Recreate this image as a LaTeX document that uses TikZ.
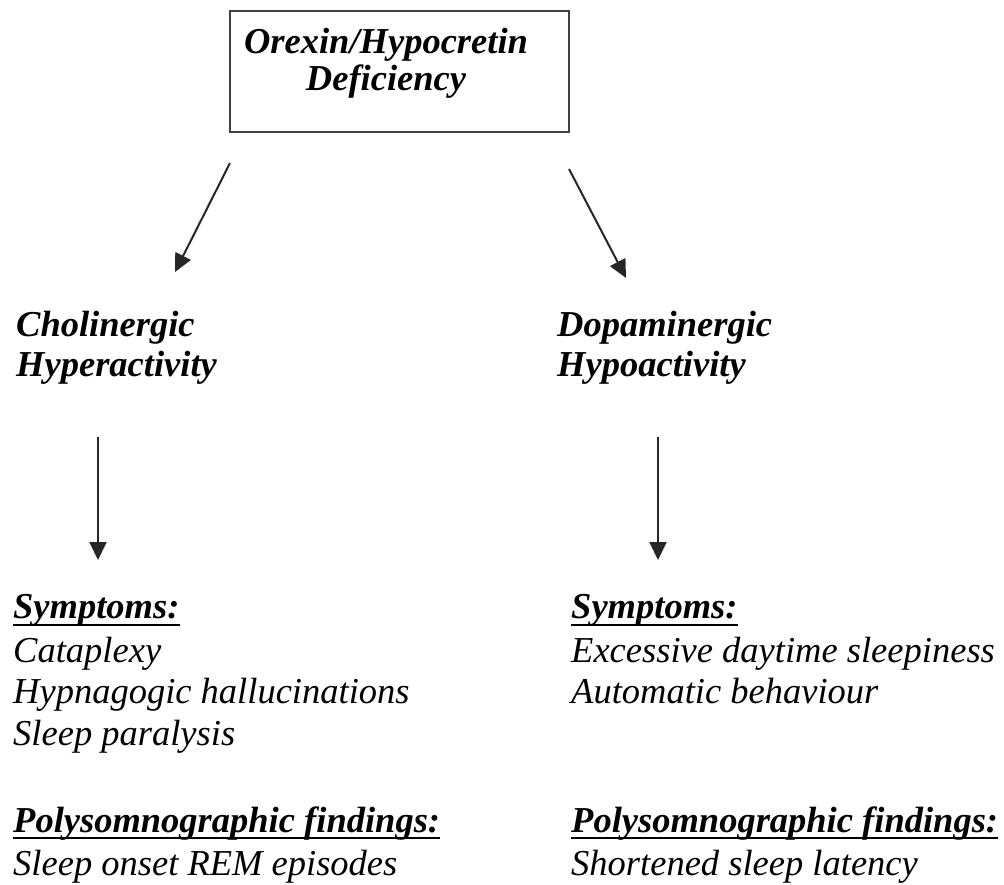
\documentclass[tikz,border=0pt]{standalone}
\usepackage{fontspec}
\setmainfont{Liberation Serif}
\usetikzlibrary{arrows.meta}
\begin{document}
\begin{tikzpicture}[x=1pt,y=-1pt]
\tikzset{every node/.style={inner sep=0pt}}
\tikzstyle{hd}=[font=\fontsize{36.5}{42}\selectfont\bfseries\itshape, anchor=base west]
\tikzstyle{itm}=[font=\fontsize{36.5}{42}\selectfont\itshape, anchor=base west]
\tikzstyle{ttl}=[font=\fontsize{36.5}{42}\selectfont\bfseries\itshape, anchor=base]
\tikzstyle{ar}=[-{Triangle[length=18pt,width=17pt]}, line width=2pt, draw=black!85]
\tikzstyle{ul}=[line width=2pt]
\useasboundingbox (0,0) rectangle (1004,884);
% top box
\node[draw=black!75, line width=2pt, minimum width=339pt, minimum height=121pt] (box) at (399.5,71.5) {};
\node[ttl] (orx1) at (386,53) {Orexin/Hypocretin};
\node[ttl] (orx2) at (386,90) {Deficiency};
% arrow ends
\coordinate (la) at (230,163);
\coordinate (lb) at (175,272);
\coordinate (ra) at (569,169);
\coordinate (rb) at (626,278);
\coordinate (lc) at (98,437);
\coordinate (ld) at (98,560);
\coordinate (rc) at (658,437);
\coordinate (rd) at (658,560);
% left column
\node[hd] (cho1) at (16,336) {Cholinergic};
\node[hd] (cho2) at (16,376) {Hyperactivity};
\node[hd] (symL) at (13,618) {Symptoms:};
\node[itm] (c1) at (13,662) {Cataplexy};
\node[itm] (c2) at (13,703) {Hypnagogic hallucinations};
\node[itm] (c3) at (13,745) {Sleep paralysis};
\node[hd] (psgL) at (13,832) {Polysomnographic findings:};
\node[itm] (c4) at (13,875) {Sleep onset REM episodes};
% right column
\node[hd] (dop1) at (557,336) {Dopaminergic};
\node[hd] (dop2) at (557,376) {Hypoactivity};
\node[hd] (symR) at (571,618) {Symptoms:};
\node[itm] (d1) at (571,662) {Excessive daytime sleepiness};
\node[itm] (d2) at (571,703) {Automatic behaviour};
\node[hd] (psgR) at (571,832) {Polysomnographic findings:};
\node[itm] (d3) at (571,875) {Shortened sleep latency};
% underlines
\draw[ul] ([yshift=-7pt]symL.base west) -- ([yshift=-7pt]symL.base east);
\draw[ul] ([yshift=-6pt]psgL.base west) -- ([yshift=-6pt]psgL.base east);
\draw[ul] ([yshift=-7pt]symR.base west) -- ([yshift=-7pt]symR.base east);
\draw[ul] ([yshift=-6pt]psgR.base west) -- ([yshift=-6pt]psgR.base east);
% arrows
\draw[ar] (la) -- (lb);
\draw[ar] (ra) -- (rb);
\draw[ar] (lc) -- (ld);
\draw[ar] (rc) -- (rd);
\end{tikzpicture}
\end{document}
